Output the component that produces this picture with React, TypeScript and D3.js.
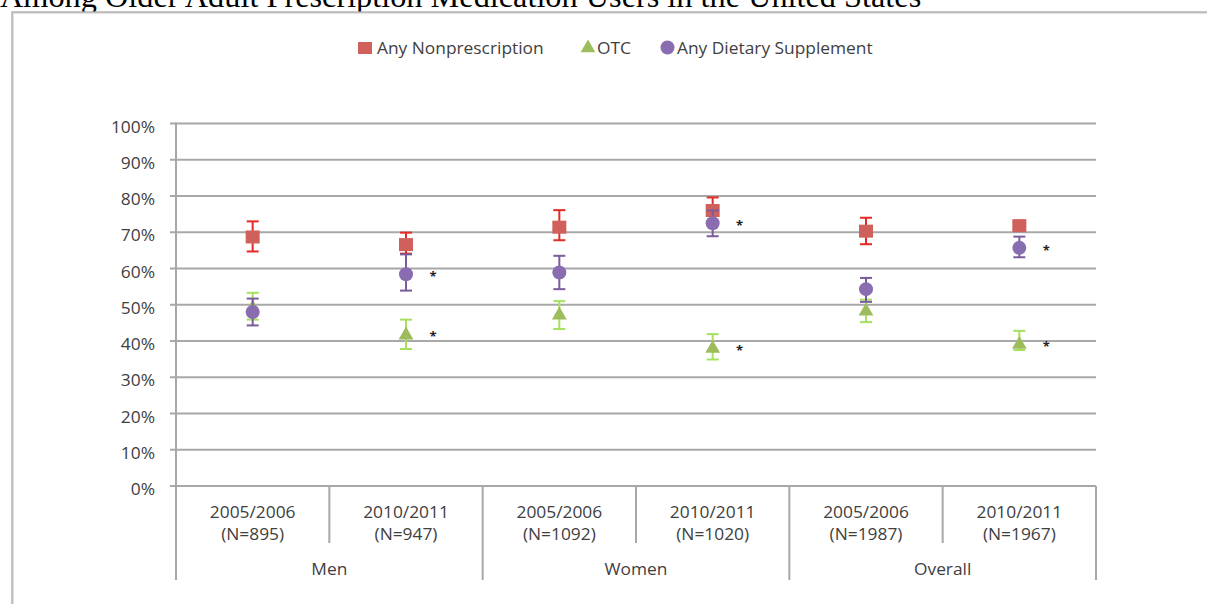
import React from 'react';
import * as d3 from 'd3';

// values (percent)
const categories = ['2005/2006', '2010/2011', '2005/2006', '2010/2011', '2005/2006', '2010/2011'];
const sampleSizes = ['(N=895)', '(N=947)', '(N=1092)', '(N=1020)', '(N=1987)', '(N=1967)'];
const groups = ['Men', 'Women', 'Overall'];
const yTicks = [0, 10, 20, 30, 40, 50, 60, 70, 80, 90, 100];

const nonpres = [68.7, 66.6, 71.4, 76.0, 70.3, 71.8];
const nonpresLo = [64.7, 64.1, 67.8, 72.5, 66.7, 70.4];
const nonpresHi = [73.0, 69.9, 76.1, 79.6, 74.0, 73.2];

const otc = [49.3, 41.9, 47.4, 38.2, 48.5, 39.3];
const otcLo = [45.9, 37.8, 43.3, 34.9, 45.2, 37.5];
const otcHi = [53.3, 45.9, 51.0, 41.9, 51.4, 42.8];

const diet = [48.0, 58.4, 58.9, 72.5, 54.3, 65.7];
const dietLo = [44.3, 53.9, 54.3, 68.9, 50.8, 63.1];
const dietHi = [51.7, 63.9, 63.5, 76.0, 57.4, 68.8];

// significant change marked with an asterisk
const otcSig = [false, true, false, true, false, true];
const dietSig = [false, true, false, true, false, true];

const series = [
  { name: 'Any Nonprescription', shape: 'square', fill: '#d0605c', bar: '#e42a24', v: nonpres, lo: nonpresLo, hi: nonpresHi, sig: null },
  { name: 'OTC', shape: 'triangle', fill: '#9dbd5c', bar: '#a6e05e', v: otc, lo: otcLo, hi: otcHi, sig: otcSig },
  { name: 'Any Dietary Supplement', shape: 'circle', fill: '#8a6db0', bar: '#7a5c9c', v: diet, lo: dietLo, hi: dietHi, sig: dietSig },
];

const W = 1207;
const H = 604;
const left = 176;
const right = 1096;
const top = 123.5;
const bottom = 486;
const font = '"Open Sans", sans-serif';
const textColor = '#404040';
const gridColor = '#a8a8a8';

// the original's labels are a bit wider than Open Sans, so stretch them horizontally
function Label({ x, y, anchor = 'start', children }: { x: number; y: number; anchor?: string; children: React.ReactNode }) {
  return (
    <text
      transform={`translate(${x},${y}) scale(1.12,1)`}
      textAnchor={anchor}
      dominantBaseline="central"
      fontFamily={font}
      fontSize={15.5}
      fill={textColor}
    >
      {children}
    </text>
  );
}

function Marker({ shape, x, y, fill }: { shape: string; x: number; y: number; fill: string }) {
  if (shape === 'square') {
    return <rect x={x - 7} y={y - 6.5} width={14} height={13} fill={fill} />;
  }
  if (shape === 'triangle') {
    const sym = d3.symbol().type(d3.symbolTriangle).size(95);
    return <path d={sym() as string} transform={`translate(${x},${y + 1})`} fill={fill} />;
  }
  return <circle cx={x} cy={y} r={7} fill={fill} />;
}

export default function App() {
  const x = d3.scaleBand<number>().domain(d3.range(categories.length)).range([left, right]);
  const y = d3.scaleLinear().domain([0, 100]).range([bottom, top]);
  const groupW = (right - left) / groups.length;

  return (
    <div style={{ position: 'absolute', left: 0, top: 0 }}>
      <svg width={W} height={H} style={{ display: 'block', background: '#fff' }}>
        <text x={0} y={7} fontFamily='"Liberation Serif", "Times New Roman", serif' fontSize={32.3} fill="#000">
          Among Older Adult Prescription Medication Users in the United States
        </text>
        <rect x={13} y={13} width={1400} height={800} fill="none" stroke="#e2e2e2" strokeWidth={2} />
        <rect x={12} y={12} width={1400} height={800} fill="none" stroke="#a9a9a9" strokeWidth={1.3} />

        {/* legend */}
        <rect x={358} y={42} width={14} height={12} fill={series[0].fill} />
        <Label x={377} y={48}>Any Nonprescription</Label>
        <Marker shape="triangle" x={588} y={47} fill={series[1].fill} />
        <Label x={597} y={48}>OTC</Label>
        <circle cx={667.5} cy={47.5} r={7} fill={series[2].fill} />
        <Label x={677} y={48}>Any Dietary Supplement</Label>

        {/* gridlines and y labels */}
        {yTicks.map(t => (
          <g key={t}>
            <line x1={170} x2={right} y1={y(t)} y2={y(t)} stroke={gridColor} strokeWidth={2} />
            <Label x={155} y={y(t) + 3} anchor="end">{t}%</Label>
          </g>
        ))}
        <line x1={left} x2={left} y1={top - 1} y2={580} stroke={gridColor} strokeWidth={2} />

        {/* category axis */}
        {categories.map((c, i) => {
          const cx = (x(i) as number) + x.bandwidth() / 2;
          const edge = (x(i) as number) + x.bandwidth();
          const isGroupEdge = (i + 1) % 2 === 0;
          return (
            <g key={i}>
              <line x1={edge} x2={edge} y1={bottom} y2={isGroupEdge ? 580 : 543} stroke={gridColor} strokeWidth={2} />
              <Label x={cx} y={512} anchor="middle">{c}</Label>
              <Label x={cx} y={534} anchor="middle">{sampleSizes[i]}</Label>
            </g>
          );
        })}
        {groups.map((g, i) => (
          <Label key={g} x={left + groupW * (i + 0.5)} y={569} anchor="middle">{g}</Label>
        ))}

        {/* error bars and markers */}
        {series.map(s => (
          <g key={s.name}>
            {s.v.map((v, i) => {
              const cx = (x(i) as number) + x.bandwidth() / 2;
              return (
                <g key={i}>
                  <line x1={cx} x2={cx} y1={y(s.lo[i])} y2={y(s.hi[i])} stroke={s.bar} strokeWidth={2} />
                  <line x1={cx - 6} x2={cx + 6} y1={y(s.lo[i])} y2={y(s.lo[i])} stroke={s.bar} strokeWidth={2} />
                  <line x1={cx - 6} x2={cx + 6} y1={y(s.hi[i])} y2={y(s.hi[i])} stroke={s.bar} strokeWidth={2} />
                  <Marker shape={s.shape} x={cx} y={y(v)} fill={s.fill} />
                  {s.sig && s.sig[i] && (
                    <text x={cx + 27} y={y(v) + 7} textAnchor="middle" fontFamily={font} fontSize={13} fontWeight="bold" fill="#222">*</text>
                  )}
                </g>
              );
            })}
          </g>
        ))}
      </svg>
    </div>
  );
}
